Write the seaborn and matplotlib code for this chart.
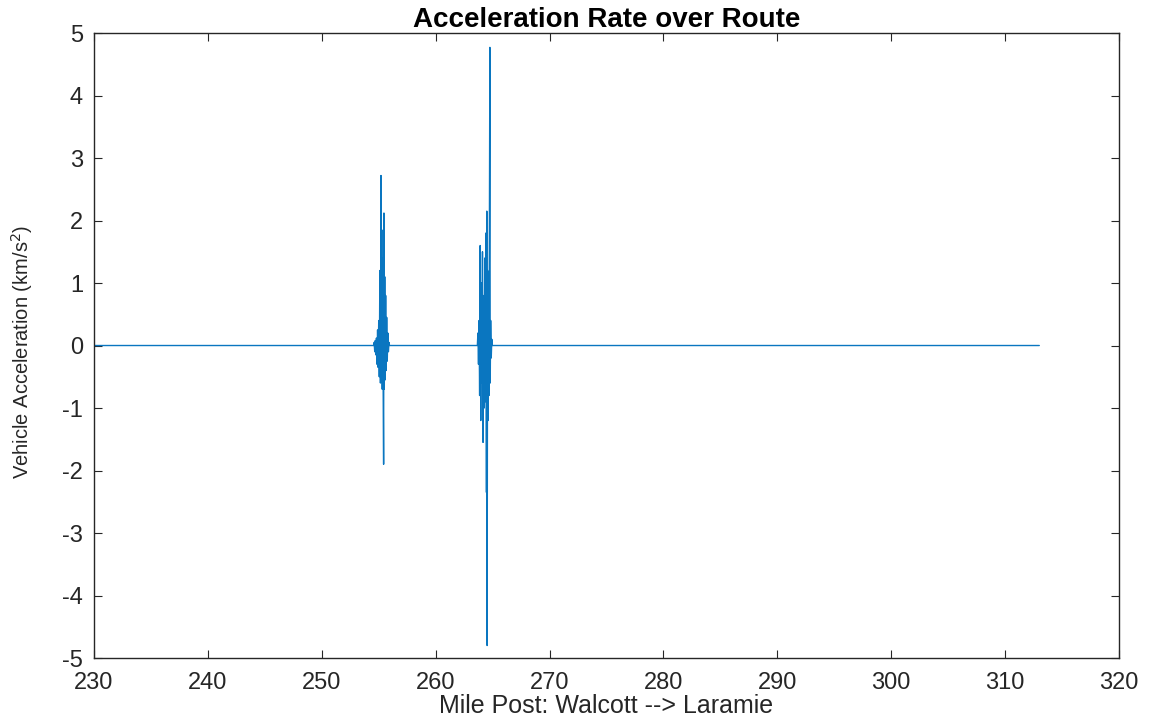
import matplotlib
matplotlib.use("Agg")
import matplotlib.pyplot as plt
import seaborn as sns
import pandas as pd

# ---- data ----
start_mile = [230.0]
end_mile = [313.0]

c1_mile = [254.55, 254.60, 254.65, 254.70, 254.75, 254.80, 254.85, 254.90,
           254.95, 255.00, 255.05, 255.10, 255.15, 255.20, 255.23, 255.27,
           255.31, 255.35, 255.39, 255.43, 255.46, 255.49, 255.53, 255.57,
           255.61, 255.65, 255.70, 255.75, 255.80, 255.85, 255.90, 255.95]
c1_acc = [0.00, 0.05, -0.10, 0.08, -0.15, 0.12, -0.30, 0.25,
          -0.35, 0.40, -0.50, 1.20, -0.60, 2.72, -0.45, 1.85,
          -0.70, 1.40, -0.65, -1.90, 2.12, -0.70, 1.10, -0.55,
          0.80, -0.40, 0.45, -0.25, 0.20, -0.10, 0.05, 0.00]

c2_mile = [263.66, 263.71, 263.76, 263.81, 263.86, 263.91, 263.96, 264.01,
           264.06, 264.11, 264.16, 264.21, 264.26, 264.31, 264.36, 264.41,
           264.46, 264.49, 264.52, 264.56, 264.60, 264.64, 264.68, 264.72,
           264.76, 264.79, 264.83, 264.88, 264.93, 264.96]
c2_acc = [0.00, 0.20, -0.30, 0.40, -0.80, 1.60, -1.20, 1.00,
          -0.60, 1.50, -1.55, 0.80, -1.00, 1.40, -0.90, 1.80,
          -2.35, 2.15, -4.80, 1.20, -1.20, 0.90, -0.80, 1.95,
          4.77, -0.60, 0.40, -0.20, 0.10, 0.00]

x_ticks = [230, 240, 250, 260, 270, 280, 290, 300, 310, 320]
y_ticks = [-5, -4, -3, -2, -1, 0, 1, 2, 3, 4, 5]

title = "Acceleration Rate over Route"
x_label = "Mile Post: Walcott --> Laramie"
y_label = "Vehicle Acceleration (km/s$^2$)"

# ---- build table ----
miles = start_mile + c1_mile + c2_mile + end_mile
accs = [0.0] + c1_acc + c2_acc + [0.0]
df = pd.DataFrame({"mile": miles, "acc": accs})

sns.set_style("white")
plt.rcParams["font.family"] = ["Liberation Sans", "DejaVu Sans"]
plt.rcParams["mathtext.fontset"] = "custom"
plt.rcParams["mathtext.rm"] = "Liberation Sans Narrow"
plt.rcParams["mathtext.it"] = "Liberation Sans Narrow"

fig = plt.figure(figsize=(11.49, 7.19), dpi=100)
ax = fig.add_axes([0.0818, 0.0848, 0.8921, 0.8693])

blue = "#0A76C0"
sns.lineplot(data=df, x="mile", y="acc", sort=False, ax=ax,
             color=blue, linewidth=1.0, estimator=None)

ax.set_xlim(230, 320)
ax.set_ylim(-5, 5)
ax.set_xticks(x_ticks)
ax.set_yticks(y_ticks)
ax.set_xticklabels([str(t) for t in x_ticks])
ax.set_yticklabels([str(t) for t in y_ticks])

axcol = "#262626"
for s in ax.spines.values():
    s.set_visible(True)
    s.set_color(axcol)
    s.set_linewidth(1.0)
ax.tick_params(axis="both", which="both", direction="in", length=6,
               width=0.8, color=axcol, labelcolor=axcol, labelsize=17,
               top=True, right=True, bottom=True, left=True)
ax.tick_params(axis="x", pad=10)
ax.tick_params(axis="y", pad=8)

ax.set_title(title, fontsize=20, fontweight="bold", color="black", pad=2)
ax.set_xlabel(x_label, fontsize=18, color=axcol, labelpad=0)
ax.set_ylabel(y_label, fontsize=14.5, color=axcol,
              family=["Liberation Sans Narrow", "Liberation Sans", "DejaVu Sans"])
ax.yaxis.set_label_coords(-0.058, 0.49)
ax.grid(False)

fig.savefig("out.png", dpi=100, facecolor="white")
